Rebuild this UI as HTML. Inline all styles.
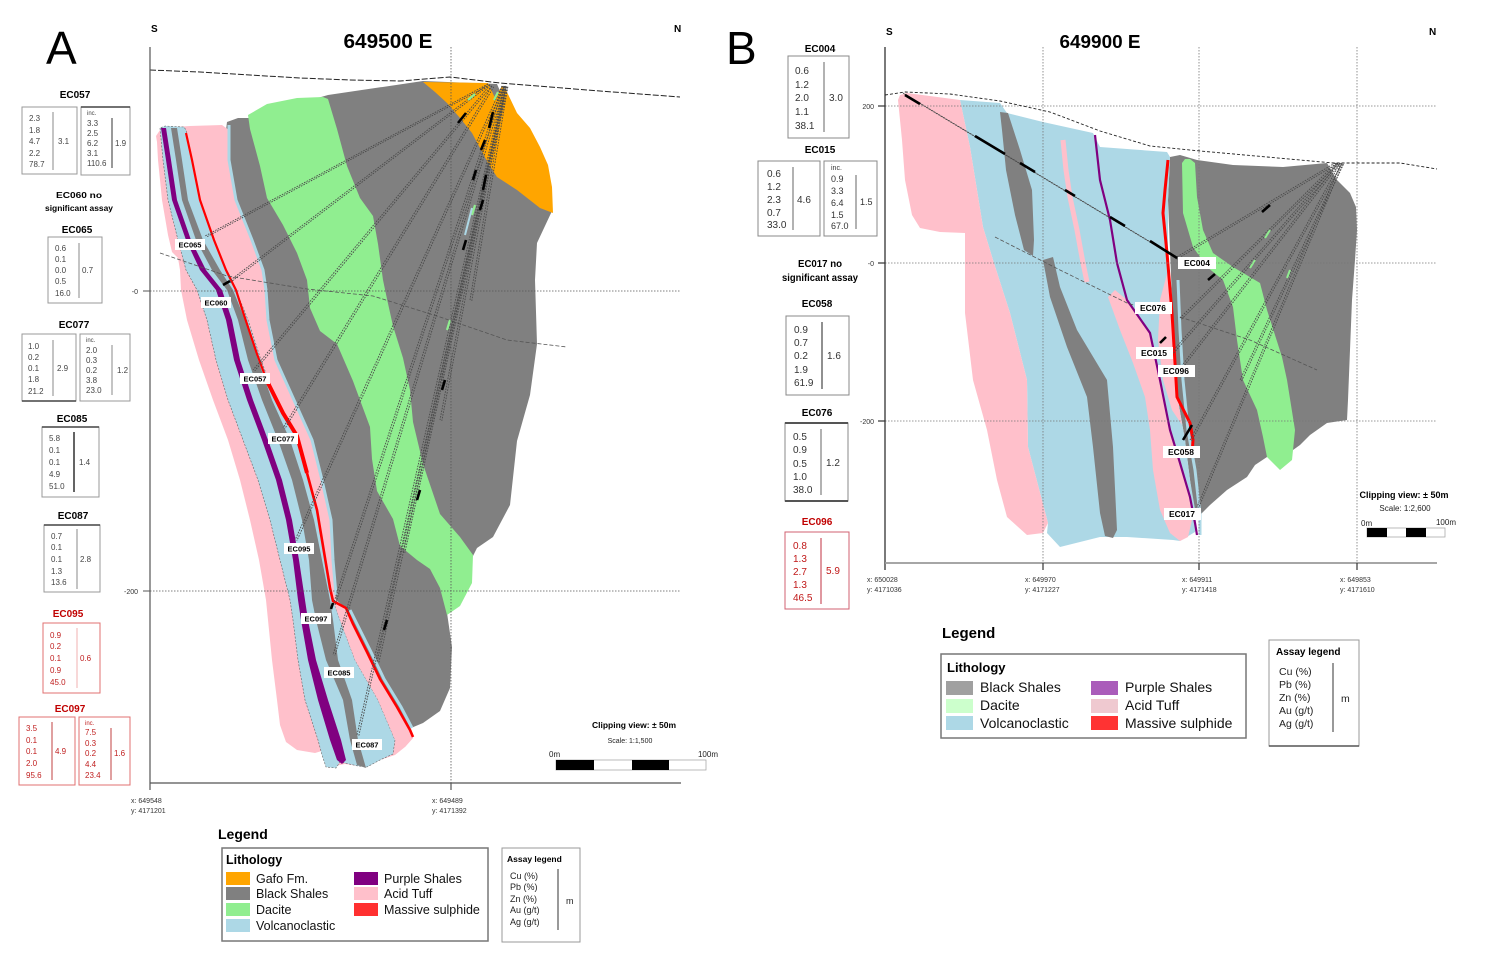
<!DOCTYPE html>
<html><head><meta charset="utf-8"><style>
html,body{margin:0;padding:0;background:#fff;}
svg{display:block;font-family:"Liberation Sans",Arial,sans-serif;}
</style></head><body>
<svg width="1503" height="961" viewBox="0 0 1503 961" xmlns="http://www.w3.org/2000/svg">
<rect width="1503" height="961" fill="#fff"/>

<!-- ================= PANEL A ================= -->
<text x="46" y="64" font-size="46">A</text>
<text x="151" y="32" font-size="10" font-weight="bold">S</text>
<text x="674" y="32" font-size="10" font-weight="bold">N</text>
<text x="388" y="48" font-size="20" font-weight="bold" text-anchor="middle" textLength="89" lengthAdjust="spacingAndGlyphs">649500 E</text>

<!-- gray body -->
<polygon fill="#808080" points="227,122 238,118 248,118 328,95 423,81 497,84 552,211 537,243 535,280 537,344 530,395 517,441 510,505 493,537 477,548 473,556 446,606 452,647 450,688 440,711 423,723 411,728 405,722 392,703 376,677 362,650 349,624 341,610 331,600 330,587 328,541 327,500 317,473 304,427 281,381 268,335 264,298 260,266 249,234 234,198 226,160 226,130"/>
<!-- green dacite -->
<polygon fill="#90EE90" points="248,115 267,104 297,98 323,97 328,99 337,129 347,166 360,198 373,216 378,244 383,280 387,299 393,326 403,358 410,390 413,422 423,464 440,514 460,537 473,555 472,583 460,606 447,615 440,588 430,569 417,560 400,546 393,519 377,491 372,459 370,427 360,400 353,381 337,344 320,331 310,308 307,280 297,253 283,225 267,198 260,166 250,129"/>
<!-- orange Gafo -->
<polygon fill="#FFA500" points="423,82 488,83 495,98 502,86 506,90 517,113 530,128 540,147 548,165 552,187 553,213 540,208 517,190 497,177 488,163 472,133 460,118 447,103 435,92"/>

<!-- left stack: base pink -->
<polygon fill="#FFC0CB" points="157,142 158,160 162,200 168,235 172,252 178,258 180,270 181,290 187,320 199,360 213,400 228,440 240,480 250,520 259,560 266,600 268,620 272,660 277,700 280,725 286,742 297,750 315,753 325,750 335,766 345,764 358,766 367,767 380,760 395,755 405,747 413,738 410,728 397,707 380,679 367,652 353,624 346,608 336,600 333,560 331,520 322,480 312,440 294,400 276,360 268,320 266,290 263,270 252,240 236,200 229,160 229,130 222,125 190,126 175,127 160,130 156,136"/>
<!-- blue -->
<polygon fill="#ADD8E6" stroke="#666" stroke-width="0.6" stroke-dasharray="2 1.5" points="160,128 163,160 168,200 178,240 186,270 197,290 207,320 216,360 228,400 243,440 258,480 270,520 280,560 290,600 293,620 298,660 305,700 318,740 322,755 326,767 336,768 340,762 358,766 367,767 380,760 393,754 395,740 378,700 355,660 340,620 333,600 326,560 319,520 309,480 297,440 276,400 261,360 248,320 236,290 226,270 214,240 200,200 192,160 186,130 184,127 165,126"/>
<!-- thin gray -->
<polygon fill="#808080" points="171,128 176,160 182,200 196,240 212,270 227,290 238,320 248,360 262,400 278,440 292,480 302,520 309,560 312,600 316,620 326,660 343,700 350,740 357,765 366,768 358,740 352,700 338,660 333,620 330,600 322,560 314,520 303,480 290,440 272,400 258,360 245,320 233,290 220,270 203,240 188,200 182,160 177,128"/>
<!-- purple -->
<polygon fill="#800080" points="161,128 166,160 172,200 186,240 200,270 216,290 226,320 234,360 247,400 262,440 276,480 286,520 293,560 298,600 301,620 308,660 318,700 330,740 337,760 342,764 346,760 341,740 328,700 316,660 308,620 305,600 299,560 292,520 282,480 268,440 253,400 240,360 232,320 222,290 206,270 191,240 177,200 171,160 166,128"/>
<!-- inner pink lower strip -->
<polygon fill="#FFC0CB" points="333,600 340,620 355,660 378,700 395,740 405,747 413,738 397,707 380,679 367,652 353,624 346,608"/>
<!-- thin blue border of gray band -->
<polyline fill="none" stroke="#ADD8E6" stroke-width="3" points="229,125 229,160 236,200 252,240 263,270 266,290 268,320 276,360 294,400 312,440 322,480 331,520 333,560 336,595"/>
<polyline fill="none" stroke="#ADD8E6" stroke-width="3" points="412,728 401,707 384,679 371,652 357,624 350,610"/>
<!-- red massive sulphide -->
<polyline fill="none" stroke="#FF0000" stroke-width="2.2" points="186,133 192,160 200,200 214,240 226,270 236,290 243,312 257,354 267,381"/>
<polyline fill="none" stroke="#FF0000" stroke-width="4" points="267,381 283,413 297,436 307,473"/>
<polyline fill="none" stroke="#FF0000" stroke-width="2.6" points="307,473 317,510 323,546 330,588 333,601 346,608 353,624 367,652 380,679 397,707 410,730 413,737"/>

<!-- curved dashed line A -->
<polyline fill="none" stroke="#555" stroke-width="0.8" stroke-dasharray="4 2" points="160,253 227,276 307,289 373,296 440,317 507,340 567,347"/>

<!-- drill holes A (double dotted) -->
<g fill="none" stroke="#4a4a4a" stroke-width="0.9" stroke-dasharray="1.6 1.2">
<line x1="488" y1="84" x2="205" y2="236"/>
<line x1="488" y1="84" x2="228" y2="282"/>
<line x1="490" y1="85" x2="253" y2="370"/>
<line x1="492" y1="86" x2="283" y2="428"/>
<line x1="502" y1="86" x2="295" y2="540"/>
<line x1="502" y1="86" x2="333" y2="605"/>
<line x1="503" y1="86" x2="333" y2="655"/>
<line x1="504" y1="86" x2="357" y2="735"/>
<line x1="505" y1="86" x2="377" y2="662"/>
<line x1="506" y1="86" x2="403" y2="552"/>
<line x1="504" y1="86" x2="440" y2="420"/>
<line x1="506" y1="86" x2="470" y2="300"/>
</g>
<g fill="none" stroke="#4a4a4a" stroke-width="0.9" stroke-dasharray="1.6 1.2" transform="translate(1.8,0.8)">
<line x1="488" y1="84" x2="205" y2="236"/>
<line x1="488" y1="84" x2="228" y2="282"/>
<line x1="490" y1="85" x2="253" y2="370"/>
<line x1="492" y1="86" x2="283" y2="428"/>
<line x1="502" y1="86" x2="295" y2="540"/>
<line x1="502" y1="86" x2="333" y2="605"/>
<line x1="503" y1="86" x2="333" y2="655"/>
<line x1="504" y1="86" x2="357" y2="735"/>
<line x1="505" y1="86" x2="377" y2="662"/>
<line x1="506" y1="86" x2="403" y2="552"/>
<line x1="504" y1="86" x2="440" y2="420"/>
<line x1="506" y1="86" x2="470" y2="300"/>
</g>
<g stroke="#000" stroke-width="2.6">
<line x1="466" y1="113" x2="458" y2="123"/>
<line x1="493" y1="112" x2="489" y2="128"/>
<line x1="485" y1="140" x2="481" y2="150"/>
<line x1="476" y1="170" x2="473" y2="180"/>
<line x1="486" y1="175" x2="483" y2="190"/>
<line x1="230" y1="281" x2="223" y2="285"/>
<line x1="483" y1="200" x2="480" y2="210"/>
<line x1="466" y1="240" x2="463" y2="250"/>
<line x1="445" y1="380" x2="442" y2="390"/>
<line x1="420" y1="490" x2="417" y2="500"/>
<line x1="387" y1="620" x2="384" y2="630"/>
<line x1="333" y1="603" x2="331" y2="609"/>
</g>
<g stroke="#90EE90" stroke-width="2.2">
<line x1="475" y1="94" x2="468" y2="100"/>
<line x1="498" y1="92" x2="494" y2="100"/>
<line x1="475" y1="205" x2="472" y2="215"/>
<line x1="450" y1="320" x2="447" y2="330"/>
</g>
<line x1="472" y1="208" x2="465" y2="235" stroke="#ADD8E6" stroke-width="2"/>

<!-- grid & axes A -->
<g stroke="#555" stroke-width="0.8" stroke-dasharray="1.5 1.5" fill="none">
<line x1="150" y1="291" x2="680" y2="291"/>
<line x1="150" y1="591" x2="680" y2="591"/>
<line x1="451" y1="47" x2="451" y2="783"/>
</g>
<polyline fill="none" stroke="#222" stroke-width="1" stroke-dasharray="6 2" points="150,70 200,72 250,75 300,78 350,80 400,81 450,77 500,83 550,87 600,91 680,97"/>
<line x1="150" y1="47" x2="150" y2="790" stroke="#555" stroke-width="1.2"/>
<line x1="150" y1="783" x2="681" y2="783" stroke="#555" stroke-width="1.2"/>
<line x1="451" y1="783" x2="451" y2="790" stroke="#555" stroke-width="1.2"/>
<line x1="143" y1="291" x2="150" y2="291" stroke="#555"/>
<line x1="143" y1="591" x2="150" y2="591" stroke="#555"/>
<text x="138" y="294" font-size="7" text-anchor="end" fill="#333">-0</text>
<text x="138" y="594" font-size="7" text-anchor="end" fill="#333">-200</text>
<g font-size="7" fill="#333">
<text x="131" y="803">x: 649548</text><text x="131" y="813">y: 4171201</text>
<text x="432" y="803">x: 649489</text><text x="432" y="813">y: 4171392</text>
</g>

<!-- labels A -->
<g font-size="7.5" font-weight="bold" text-anchor="middle">
<rect x="175" y="239" width="30" height="11" fill="#fff"/><text x="190" y="247.5">EC065</text>
<rect x="201" y="297" width="30" height="11" fill="#fff"/><text x="216" y="305.5">EC060</text>
<rect x="240" y="373" width="30" height="11" fill="#fff"/><text x="255" y="381.5">EC057</text>
<rect x="268" y="433" width="30" height="11" fill="#fff"/><text x="283" y="441.5">EC077</text>
<rect x="284" y="543" width="30" height="11" fill="#fff"/><text x="299" y="551.5">EC095</text>
<rect x="301" y="613" width="30" height="11" fill="#fff"/><text x="316" y="621.5">EC097</text>
<rect x="324" y="667" width="30" height="11" fill="#fff"/><text x="339" y="675.5">EC085</text>
<rect x="352" y="739" width="30" height="11" fill="#fff"/><text x="367" y="747.5">EC087</text>
</g>

<!-- clipping A -->
<text x="634" y="728" font-size="8.5" font-weight="bold" text-anchor="middle">Clipping view: ± 50m</text>
<text x="630" y="743" font-size="7" text-anchor="middle" fill="#222">Scale: 1:1,500</text>
<text x="549" y="757" font-size="8" fill="#222">0m</text>
<text x="718" y="757" font-size="8" text-anchor="end" fill="#222">100m</text>
<rect x="556" y="760" width="150" height="10" fill="#fff" stroke="#aaa" stroke-width="0.8"/>
<rect x="556" y="760" width="38" height="10" fill="#000"/>
<rect x="632" y="760" width="37" height="10" fill="#000"/>

<!-- Tables A -->
<g font-size="10" font-weight="bold" text-anchor="middle">
<text x="75" y="98">EC057</text>
<text x="77" y="233">EC065</text>
<text x="74" y="328">EC077</text>
<text x="72" y="422">EC085</text>
<text x="73" y="519">EC087</text>
<text x="68" y="617" fill="#c00000">EC095</text>
<text x="70" y="712" fill="#c00000">EC097</text>
<text x="79" y="198" font-size="8.5" textLength="46" lengthAdjust="spacingAndGlyphs">EC060 no</text>
<text x="79" y="211" font-size="8.5" textLength="68" lengthAdjust="spacingAndGlyphs">significant assay</text>
</g>
<g fill="#fff" stroke="#999" stroke-width="1">
<rect x="22" y="107" width="55" height="67"/>
<rect x="81" y="107" width="49" height="68"/>
<rect x="48" y="237" width="54" height="66"/>
<rect x="22" y="334" width="54" height="67"/>
<rect x="80" y="334" width="50" height="67"/>
<rect x="42" y="427" width="57" height="70"/>
<rect x="44" y="525" width="56" height="67"/>
</g>
<g stroke="#444" stroke-width="1.5">
<line x1="81" y1="107" x2="130" y2="107"/>
<line x1="22" y1="401" x2="76" y2="401"/>
<line x1="42" y1="427" x2="99" y2="427"/>
<line x1="44" y1="525" x2="100" y2="525"/>
</g>
<g fill="#fff" stroke="#e07070" stroke-width="1">
<rect x="43" y="623" width="57" height="70"/>
<rect x="19" y="717" width="56" height="68"/>
<rect x="79" y="717" width="51" height="68"/>
</g>
<g stroke="#888" stroke-width="1">
<line x1="53" y1="112" x2="53" y2="170"/>
<line x1="112" y1="118" x2="112" y2="168" stroke="#333"/>
<line x1="79" y1="243" x2="79" y2="298"/>
<line x1="53" y1="340" x2="53" y2="396"/>
<line x1="112" y1="345" x2="112" y2="395"/>
<line x1="74" y1="432" x2="74" y2="492" stroke="#111" stroke-width="1.3"/>
<line x1="77" y1="529" x2="77" y2="589"/>
<line x1="77" y1="628" x2="77" y2="688" stroke="#f0b0b0"/>
<line x1="52" y1="722" x2="52" y2="780" stroke="#c04040"/>
<line x1="111" y1="728" x2="111" y2="780" stroke="#c04040"/>
</g>
<g font-size="8" fill="#444">
<text x="29" y="121">2.3</text><text x="29" y="133">1.8</text><text x="29" y="144">4.7</text><text x="29" y="156">2.2</text><text x="29" y="167">78.7</text><text x="58" y="144">3.1</text>
<text x="87" y="115" font-size="6">inc.</text>
<text x="87" y="126">3.3</text><text x="87" y="136">2.5</text><text x="87" y="146">6.2</text><text x="87" y="156">3.1</text><text x="87" y="166">110.6</text><text x="115" y="146">1.9</text>
<text x="55" y="251">0.6</text><text x="55" y="262">0.1</text><text x="55" y="273">0.0</text><text x="55" y="284">0.5</text><text x="55" y="296">16.0</text><text x="82" y="273">0.7</text>
<text x="28" y="349">1.0</text><text x="28" y="360">0.2</text><text x="28" y="371">0.1</text><text x="28" y="382">1.8</text><text x="28" y="394">21.2</text><text x="57" y="371">2.9</text>
<text x="86" y="342" font-size="6">inc.</text>
<text x="86" y="353">2.0</text><text x="86" y="363">0.3</text><text x="86" y="373">0.2</text><text x="86" y="383">3.8</text><text x="86" y="393">23.0</text><text x="117" y="373">1.2</text>
<text x="49" y="441">5.8</text><text x="49" y="453">0.1</text><text x="49" y="465">0.1</text><text x="49" y="477">4.9</text><text x="49" y="489">51.0</text><text x="79" y="465">1.4</text>
<text x="51" y="539">0.7</text><text x="51" y="550">0.1</text><text x="51" y="562">0.1</text><text x="51" y="574">1.3</text><text x="51" y="585">13.6</text><text x="80" y="562">2.8</text>
</g>
<g font-size="8" fill="#c02020">
<text x="50" y="638">0.9</text><text x="50" y="649">0.2</text><text x="50" y="661">0.1</text><text x="50" y="673">0.9</text><text x="50" y="685">45.0</text><text x="80" y="661">0.6</text>
<text x="26" y="731">3.5</text><text x="26" y="743">0.1</text><text x="26" y="754">0.1</text><text x="26" y="766">2.0</text><text x="26" y="778">95.6</text><text x="55" y="754">4.9</text>
<text x="85" y="725" font-size="6">inc.</text>
<text x="85" y="735">7.5</text><text x="85" y="746">0.3</text><text x="85" y="756">0.2</text><text x="85" y="767">4.4</text><text x="85" y="778">23.4</text><text x="114" y="756">1.6</text>
</g>

<!-- Legend A -->
<text x="218" y="839" font-size="14" font-weight="bold">Legend</text>
<rect x="222" y="848" width="266" height="93" fill="#fff" stroke="#777" stroke-width="1.5"/>
<text x="226" y="864" font-size="12.5" font-weight="bold">Lithology</text>
<rect x="226" y="872" width="24" height="13" fill="#FFA500"/>
<rect x="226" y="887" width="24" height="13" fill="#808080"/>
<rect x="226" y="903" width="24" height="13" fill="#90EE90"/>
<rect x="226" y="919" width="24" height="13" fill="#ADD8E6"/>
<rect x="354" y="872" width="24" height="13" fill="#800080"/>
<rect x="354" y="887" width="24" height="13" fill="#FFC0CB"/>
<rect x="354" y="903" width="24" height="13" fill="#FF3030"/>
<g font-size="12.5" fill="#111">
<text x="256" y="883">Gafo Fm.</text>
<text x="256" y="898">Black Shales</text>
<text x="256" y="914">Dacite</text>
<text x="256" y="930">Volcanoclastic</text>
<text x="384" y="883">Purple Shales</text>
<text x="384" y="898">Acid Tuff</text>
<text x="384" y="914">Massive sulphide</text>
</g>
<rect x="502" y="848" width="78" height="94" fill="#fff" stroke="#999" stroke-width="1"/>
<text x="507" y="862" font-size="8.5" font-weight="bold">Assay legend</text>
<g font-size="9" fill="#222">
<text x="510" y="879">Cu (%)</text><text x="510" y="890">Pb (%)</text><text x="510" y="902">Zn (%)</text><text x="510" y="913">Au (g/t)</text><text x="510" y="925">Ag (g/t)</text>
<text x="566" y="904">m</text>
</g>
<line x1="558" y1="869" x2="558" y2="930" stroke="#333" stroke-width="1"/>

<!-- ================= PANEL B ================= -->
<text x="726" y="64" font-size="46">B</text>
<text x="886" y="35" font-size="10" font-weight="bold">S</text>
<text x="1429" y="35" font-size="10" font-weight="bold">N</text>
<text x="1100" y="48" font-size="18" font-weight="bold" text-anchor="middle" textLength="81" lengthAdjust="spacingAndGlyphs">649900 E</text>

<!-- gray right body -->
<polygon fill="#808080" points="1170,157 1180,155 1197,160 1233,165 1283,167 1327,163 1337,180 1350,193 1356,207 1357,230 1355,260 1352,300 1350,350 1348,400 1347,420 1327,423 1310,435 1300,445 1293,450 1270,455 1255,465 1247,477 1227,490 1210,505 1200,515 1195,515 1190,480 1185,440 1178,400 1175,350 1172,300 1170,250 1168,200"/>
<!-- green B -->
<polygon fill="#90EE90" points="1182,163 1183,213 1193,247 1207,267 1223,280 1233,307 1237,340 1243,380 1257,410 1263,437 1267,457 1280,470 1292,460 1295,430 1287,380 1282,357 1267,310 1260,283 1233,267 1213,253 1203,230 1197,197 1195,163 1190,159 1185,159"/>
<!-- blue big -->
<polygon fill="#ADD8E6" points="960,100 1000,103 1007,113 1043,122 1093,133 1100,147 1167,152 1170,157 1168,200 1168,250 1172,300 1175,350 1178,400 1185,440 1190,480 1196,515 1195,532 1180,541 1173,540 1127,537 1100,537 1060,547 1047,533 1048,523 1028,447 1027,380 1010,313 993,260 983,227 970,147"/>
<!-- pink left B -->
<polygon fill="#FFC0CB" points="900,95 907,93 960,100 970,147 983,227 993,260 1010,313 1027,380 1028,447 1048,523 1043,533 1027,535 1007,517 997,480 987,430 973,380 965,313 965,233 940,232 920,228 912,215 905,180 902,140 898,100"/>
<!-- gray strips B -->
<polygon fill="#808080" points="1000,112 1008,113 1020,150 1032,190 1034,240 1033,256 1024,250 1015,215 1006,170 1002,130"/>
<polygon fill="#808080" points="1043,260 1053,257 1060,287 1077,330 1107,380 1113,447 1117,530 1113,538 1105,536 1100,513 1093,447 1087,397 1067,347 1050,297"/>
<!-- pink strips B -->
<polyline fill="none" stroke="#FFC0CB" stroke-width="5" points="1063,140 1066,170 1070,197 1077,230 1083,263 1087,282"/>
<polygon fill="#FFC0CB" points="1108,297 1120,330 1133,363 1145,397 1150,430 1153,470 1160,510 1170,533 1180,541 1188,537 1192,520 1190,497 1180,463 1170,430 1160,380 1150,333 1127,300 1115,290"/>
<polygon fill="#FFC0CB" points="1168,270 1160,300 1158,340 1163,380 1172,410 1182,425 1178,400 1175,360 1172,310 1170,275"/>
<!-- purple B -->
<polyline fill="none" stroke="#800080" stroke-width="2.2" points="1095,135 1100,180 1110,220 1117,263 1127,300 1150,333 1160,380 1170,430 1180,463 1190,497 1195,523 1197,535"/>
<!-- thin blue along body -->
<polyline fill="none" stroke="#ADD8E6" stroke-width="3" points="1178,280 1180,330 1183,380 1188,430 1195,470 1200,515 1200,535"/>
<!-- red B -->
<polyline fill="none" stroke="#FF0000" stroke-width="3" points="1168,160 1165,190 1163,213 1167,253 1172,313 1175,363 1177,397 1190,423 1193,440 1192,455"/>

<!-- curved dashed B -->
<polyline fill="none" stroke="#555" stroke-width="0.8" stroke-dasharray="4 2" points="995,237 1060,270 1127,303 1140,307"/>
<polyline fill="none" stroke="#555" stroke-width="0.8" stroke-dasharray="4 2" points="1180,317 1250,340 1317,370"/>

<!-- drill holes B (double dotted) -->
<g fill="none" stroke="#4a4a4a" stroke-width="0.9" stroke-dasharray="1.6 1.2">
<line x1="903" y1="93" x2="1177" y2="258"/>
<line x1="1335" y1="163" x2="1175" y2="258"/>
<line x1="1336" y1="163" x2="1180" y2="318"/>
<line x1="1337" y1="163" x2="1172" y2="352"/>
<line x1="1338" y1="163" x2="1180" y2="368"/>
<line x1="1340" y1="163" x2="1190" y2="440"/>
<line x1="1341" y1="163" x2="1197" y2="507"/>
<line x1="1342" y1="163" x2="1240" y2="380"/>
</g>
<g fill="none" stroke="#4a4a4a" stroke-width="0.9" stroke-dasharray="1.6 1.2" transform="translate(1.5,1.2)">
<line x1="903" y1="93" x2="1177" y2="258"/>
<line x1="1335" y1="163" x2="1175" y2="258"/>
<line x1="1336" y1="163" x2="1180" y2="318"/>
<line x1="1337" y1="163" x2="1172" y2="352"/>
<line x1="1338" y1="163" x2="1180" y2="368"/>
<line x1="1340" y1="163" x2="1190" y2="440"/>
<line x1="1341" y1="163" x2="1197" y2="507"/>
<line x1="1342" y1="163" x2="1240" y2="380"/>
</g>
<g stroke="#000" stroke-width="2.6">
<line x1="905" y1="95" x2="920" y2="104"/>
<line x1="975" y1="136" x2="1005" y2="154"/>
<line x1="1020" y1="163" x2="1035" y2="172"/>
<line x1="1065" y1="190" x2="1075" y2="196"/>
<line x1="1110" y1="217" x2="1125" y2="226"/>
<line x1="1150" y1="241" x2="1177" y2="258"/>
<line x1="1192" y1="425" x2="1183" y2="440"/>
<line x1="1160" y1="343" x2="1166" y2="337"/>
<line x1="1270" y1="205" x2="1262" y2="212"/>
<line x1="1215" y1="274" x2="1208" y2="280"/>
</g>
<g stroke="#90EE90" stroke-width="2">
<line x1="1270" y1="230" x2="1265" y2="238"/>
<line x1="1255" y1="260" x2="1250" y2="268"/>
<line x1="1290" y1="270" x2="1287" y2="278"/>
</g>

<!-- grid & axes B -->
<g stroke="#777" stroke-width="0.8" stroke-dasharray="1.5 1.5" fill="none">
<line x1="885" y1="106" x2="1437" y2="106"/>
<line x1="885" y1="263" x2="1437" y2="263"/>
<line x1="885" y1="421" x2="1437" y2="421"/>
<line x1="1043" y1="47" x2="1043" y2="563"/>
<line x1="1199" y1="47" x2="1199" y2="563"/>
<line x1="1357" y1="47" x2="1357" y2="563"/>
</g>
<polyline fill="none" stroke="#222" stroke-width="0.9" stroke-dasharray="3 2" points="885,95 905,92 950,94 1000,101 1050,112 1100,131 1150,146 1200,151 1267,157 1333,163 1400,163 1437,169"/>
<line x1="885" y1="47" x2="885" y2="570" stroke="#222" stroke-width="1.2"/>
<line x1="885" y1="563" x2="1437" y2="563" stroke="#999" stroke-width="1.8"/>
<g stroke="#333" stroke-width="1.2">
<line x1="1043" y1="563" x2="1043" y2="570"/>
<line x1="1199" y1="563" x2="1199" y2="570"/>
<line x1="1357" y1="563" x2="1357" y2="570"/>
<line x1="878" y1="106" x2="885" y2="106"/>
<line x1="878" y1="263" x2="885" y2="263"/>
<line x1="878" y1="421" x2="885" y2="421"/>
</g>
<g font-size="7" fill="#333" text-anchor="end">
<text x="874" y="109">200</text><text x="874" y="266">-0</text><text x="874" y="424">-200</text>
</g>
<g font-size="7" fill="#333">
<text x="867" y="582">x: 650028</text><text x="867" y="592">y: 4171036</text>
<text x="1025" y="582">x: 649970</text><text x="1025" y="592">y: 4171227</text>
<text x="1182" y="582">x: 649911</text><text x="1182" y="592">y: 4171418</text>
<text x="1340" y="582">x: 649853</text><text x="1340" y="592">y: 4171610</text>
</g>

<!-- labels B -->
<g font-size="8.5" font-weight="bold" text-anchor="middle">
<rect x="1178" y="257" width="38" height="12" fill="#fff"/><text x="1197" y="266">EC004</text>
<rect x="1135" y="302" width="37" height="12" fill="#fff"/><text x="1153" y="311">EC076</text>
<rect x="1136" y="347" width="37" height="12" fill="#fff"/><text x="1154" y="356">EC015</text>
<rect x="1158" y="365" width="37" height="12" fill="#fff"/><text x="1176" y="374">EC096</text>
<rect x="1163" y="446" width="37" height="12" fill="#fff"/><text x="1181" y="455">EC058</text>
<rect x="1164" y="508" width="37" height="12" fill="#fff"/><text x="1182" y="517">EC017</text>
</g>

<!-- clipping B -->
<text x="1404" y="498" font-size="9" font-weight="bold" text-anchor="middle">Clipping view: ± 50m</text>
<text x="1405" y="511" font-size="8" text-anchor="middle" fill="#222">Scale: 1:2,600</text>
<text x="1361" y="526" font-size="8" fill="#222">0m</text>
<text x="1456" y="525" font-size="8" text-anchor="end" fill="#222">100m</text>
<rect x="1367" y="528" width="78" height="9" fill="#fff" stroke="#aaa" stroke-width="0.8"/>
<rect x="1367" y="528" width="20" height="9" fill="#000"/>
<rect x="1406" y="528" width="20" height="9" fill="#000"/>

<!-- Tables B -->
<g font-size="10" font-weight="bold" text-anchor="middle">
<text x="820" y="52">EC004</text>
<text x="820" y="153">EC015</text>
<text x="820" y="267" textLength="44" lengthAdjust="spacingAndGlyphs">EC017 no</text>
<text x="820" y="281" textLength="76" lengthAdjust="spacingAndGlyphs">significant assay</text>
<text x="817" y="307">EC058</text>
<text x="817" y="416">EC076</text>
<text x="817" y="525" fill="#c00000">EC096</text>
</g>
<g fill="#fff" stroke="#888" stroke-width="1">
<rect x="788" y="56" width="61" height="82"/>
<rect x="758" y="161" width="62" height="75"/>
<rect x="824" y="161" width="53" height="75"/>
<rect x="786" y="316" width="63" height="79"/>
<rect x="785" y="423" width="63" height="78"/>
</g>
<g stroke="#555" stroke-width="2">
<line x1="785" y1="423" x2="848" y2="423"/>
<line x1="785" y1="501" x2="848" y2="501"/>
</g>
<rect x="785" y="532" width="64" height="77" fill="#fff" stroke="#d06070" stroke-width="1"/>
<g stroke="#666" stroke-width="1">
<line x1="824" y1="62" x2="824" y2="132"/>
<line x1="793" y1="167" x2="793" y2="230"/>
<line x1="856" y1="175" x2="856" y2="229"/>
<line x1="822" y1="322" x2="822" y2="389" stroke="#222"/>
<line x1="821" y1="429" x2="821" y2="495"/>
<line x1="821" y1="538" x2="821" y2="604" stroke="#c03040"/>
</g>
<g font-size="10" fill="#333">
<text x="795" y="74">0.6</text><text x="795" y="88">1.2</text><text x="795" y="101">2.0</text><text x="795" y="115">1.1</text><text x="795" y="129">38.1</text><text x="829" y="101">3.0</text>
<text x="767" y="177">0.6</text><text x="767" y="190">1.2</text><text x="767" y="203">2.3</text><text x="767" y="216">0.7</text><text x="767" y="228">33.0</text><text x="797" y="203">4.6</text>
<text x="831" y="170" font-size="7">inc.</text>
<text x="831" y="182" font-size="9">0.9</text><text x="831" y="194" font-size="9">3.3</text><text x="831" y="206" font-size="9">6.4</text><text x="831" y="218" font-size="9">1.5</text><text x="831" y="229" font-size="9">67.0</text><text x="860" y="205" font-size="9">1.5</text>
<text x="794" y="333">0.9</text><text x="794" y="346">0.7</text><text x="794" y="359">0.2</text><text x="794" y="373">1.9</text><text x="794" y="386">61.9</text><text x="827" y="359">1.6</text>
<text x="793" y="440">0.5</text><text x="793" y="453">0.9</text><text x="793" y="467">0.5</text><text x="793" y="480">1.0</text><text x="793" y="493">38.0</text><text x="826" y="466">1.2</text>
</g>
<g font-size="10" fill="#c01818">
<text x="793" y="549">0.8</text><text x="793" y="562">1.3</text><text x="793" y="575">2.7</text><text x="793" y="588">1.3</text><text x="793" y="601">46.5</text><text x="826" y="574">5.9</text>
</g>

<!-- Legend B -->
<text x="942" y="638" font-size="15" font-weight="bold">Legend</text>
<rect x="941" y="654" width="305" height="84" fill="#fff" stroke="#777" stroke-width="1.5"/>
<text x="947" y="672" font-size="13" font-weight="bold">Lithology</text>
<rect x="946" y="681" width="27" height="14" fill="#A0A0A0"/>
<rect x="946" y="699" width="27" height="14" fill="#CCFFCC"/>
<rect x="946" y="716" width="27" height="14" fill="#ADD8E6"/>
<rect x="1091" y="681" width="27" height="14" fill="#AA5CBA"/>
<rect x="1091" y="699" width="27" height="14" fill="#EFC9D0"/>
<rect x="1091" y="716" width="27" height="14" fill="#FF3333"/>
<g font-size="14" fill="#111">
<text x="980" y="692">Black Shales</text>
<text x="980" y="710">Dacite</text>
<text x="980" y="728">Volcanoclastic</text>
<text x="1125" y="692">Purple Shales</text>
<text x="1125" y="710">Acid Tuff</text>
<text x="1125" y="728">Massive sulphide</text>
</g>
<rect x="1269" y="640" width="90" height="106" fill="#fff" stroke="#999" stroke-width="1"/>
<line x1="1269" y1="746" x2="1359" y2="746" stroke="#555" stroke-width="1.5"/>
<text x="1276" y="655" font-size="10" font-weight="bold">Assay legend</text>
<g font-size="10.5" fill="#222">
<text x="1279" y="675">Cu (%)</text><text x="1279" y="688">Pb (%)</text><text x="1279" y="701">Zn (%)</text><text x="1279" y="714">Au (g/t)</text><text x="1279" y="727">Ag (g/t)</text>
<text x="1341" y="702">m</text>
</g>
<line x1="1333" y1="663" x2="1333" y2="732" stroke="#333" stroke-width="1"/>
</svg>
</body></html>
